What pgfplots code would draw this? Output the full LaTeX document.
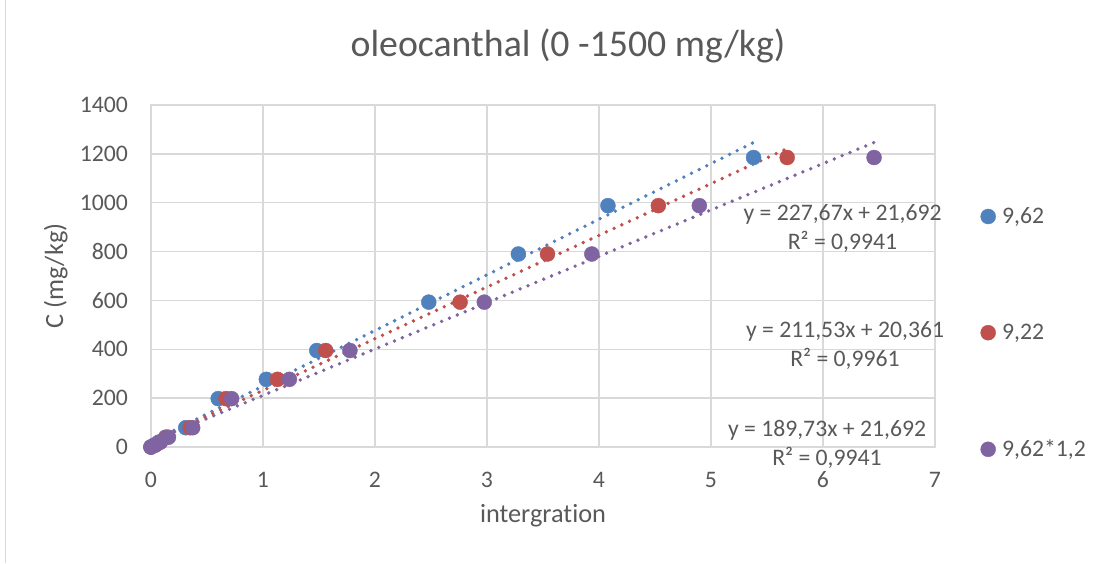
\documentclass[border=0pt]{standalone}
\usepackage{pgfplots}
\pgfplotsset{compat=1.18}
\usepackage{fontspec}
\setmainfont{Carlito}[Ligatures=NoCommon]
\definecolor{sblue}{HTML}{4F81BD}
\definecolor{sred}{HTML}{C0504D}
\definecolor{spurple}{HTML}{8064A2}
\definecolor{txt}{HTML}{595959}
\definecolor{gridc}{HTML}{D9D9D9}
\begin{document}
\begin{tikzpicture}[x=1pt,y=1pt]
\useasboundingbox (0,0) rectangle (1101,563);
\draw[gridc, line width=1.5pt] (5.5,0) -- (5.5,563);
\begin{axis}[
  at={(151pt,116pt)}, anchor=south west, scale only axis,
  width=784pt, height=342pt,
  xmin=0, xmax=7, ymin=0, ymax=1400,
  xtick={0,1,...,7}, ytick={0,200,...,1400},
  grid=major, grid style={gridc, line width=1.3pt},
  axis line style={gridc, line width=1.3pt},
  major tick length=0pt,
  tick label style={font=\fontsize{23.7}{28}\selectfont, text=txt},
  /pgf/number format/assume math mode=true,
  /pgf/number format/set thousands separator={},
  xticklabel style={anchor=center, inner sep=0pt, yshift=-32.5pt},
  yticklabel style={anchor=east, inner sep=0pt, xshift=-23pt},
  title={oleocanthal (0 -1500 mg/kg)},
  title style={at={(axis description cs:0.5319,1.1228)}, anchor=base, font=\fontsize{37.8}{44}\selectfont, text=txt, inner sep=0pt},
  xlabel={intergration},
  xlabel style={at={(axis description cs:0.5,-0.2222)}, anchor=base, font=\fontsize{26.3}{31}\selectfont, text=txt, inner sep=0pt},
  ylabel={C (mg/kg)},
  ylabel style={at={(axis description cs:-0.1122,0.5)}, anchor=base, font=\fontsize{26.3}{31}\selectfont, text=txt, inner sep=0pt},
  legend style={at={(axis description cs:1.058,0.333)}, anchor=west, draw=none, fill=none,
    font=\fontsize{23.7}{28}\selectfont, text=txt, inner sep=0pt, row sep=99pt, column sep=6.5pt,
    nodes={inner sep=0pt}},
  legend cell align=left,
  legend image code/.code={\draw[#1] plot coordinates {(0pt,0pt)};},
  clip=false,
]
\addplot[only marks, mark=*, mark size=7.5pt, color=sblue] coordinates {
(0,0) (0.03,8) (0.07,20) (0.13,40) (0.31,79) (0.60,198) (1.03,277) (1.48,395) (2.48,593) (3.28,790) (4.08,988) (5.38,1185)};
\addlegendentry{9,62}
\addplot[only marks, mark=*, mark size=7.5pt, color=sred] coordinates {
(0,0) (0.04,8) (0.08,20) (0.14,40) (0.35,79) (0.67,198) (1.13,277) (1.56,395) (2.76,593) (3.54,790) (4.53,988) (5.68,1185)};
\addlegendentry{9,22}
\addplot[only marks, mark=*, mark size=7.5pt, color=spurple] coordinates {
(0,0) (0.036,8) (0.084,20) (0.156,40) (0.372,79) (0.72,198) (1.236,277) (1.776,395) (2.976,593) (3.936,790) (4.896,988) (6.456,1185)};
\addlegendentry{9,62*1,2}
\addplot[forget plot, sblue, line width=3.8pt, line cap=round, dash pattern=on 0pt off 8.5pt] coordinates {(0,21.692) (5.38,1246.5)};
\addplot[forget plot, sred, line width=3.8pt, line cap=round, dash pattern=on 0pt off 8.5pt] coordinates {(0,20.361) (5.68,1221.8)};
\addplot[forget plot, spurple, line width=3.8pt, line cap=round, dash pattern=on 0pt off 8.5pt] coordinates {(0,21.692) (6.456,1246.6)};
\end{axis}
\begin{scope}[every node/.style={font=\fontsize{23.7}{28}\selectfont, text=txt, inner sep=0pt, anchor=base}]
\node at (842.5,342.5) {y = 227,67x + 21,692};
\node at (842.5,313.7) {R² = 0,9941};
\node at (845,225.3) {y = 211,53x + 20,361};
\node at (845,196.3) {R² = 0,9961};
\node at (827,127) {y = 189,73x + 21,692};
\node at (827,98) {R² = 0,9941};
\end{scope}
\end{tikzpicture}
\end{document}
